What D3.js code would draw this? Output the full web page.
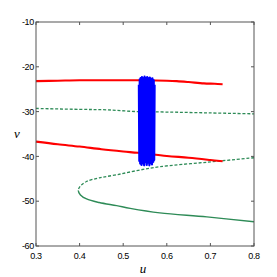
<!DOCTYPE html>
<html><head><meta charset="utf-8">
<script src="https://cdn.jsdelivr.net/npm/d3@7"></script>
<style>body{margin:0;background:#fff}svg{display:block}</style>
</head><body>
<svg id="c" width="277" height="277"></svg>
<script>
const xTicks = [0.3, 0.4, 0.5, 0.6, 0.7, 0.8];
const yTicks = [-60, -50, -40, -30, -20, -10];

const redUpperU = [0.3, 0.35, 0.4, 0.45, 0.5, 0.55, 0.6, 0.623, 0.65, 0.685, 0.71, 0.728];
const redUpperV = [-23.2, -23.1, -23.0, -23.0, -23.0, -23.0, -23.1, -23.2, -23.4, -23.7, -23.8, -23.9];

const redLowerU = [0.3, 0.35, 0.4, 0.45, 0.5, 0.534, 0.6, 0.65, 0.7, 0.728];
const redLowerV = [-36.7, -37.3, -37.8, -38.4, -38.9, -39.2, -39.9, -40.3, -40.8, -41.1];

const greenTopU = [0.3, 0.4, 0.462, 0.532, 0.6, 0.7, 0.8];
const greenTopV = [-29.3, -29.5, -29.6, -30.0, -30.1, -30.3, -30.5];

// closed-branch curve, from upper-right (dashed) through vertex to lower-right (solid)
const curveU = [0.8, 0.692, 0.584, 0.535, 0.485, 0.445, 0.416, 0.402, 0.397, 0.402, 0.416, 0.445, 0.485, 0.516, 0.584, 0.692, 0.8];
const curveV = [-40.3, -41.3, -42.3, -43.1, -44.1, -44.8, -45.6, -46.6, -47.6, -48.6, -49.5, -50.3, -51.0, -51.6, -52.6, -53.5, -54.6];
const vertexV = -47.6;

const blueU = [0.536, 0.537, 0.538, 0.539, 0.540, 0.542, 0.543, 0.545, 0.546, 0.548, 0.549, 0.551, 0.552, 0.554, 0.555, 0.557, 0.558, 0.560, 0.561, 0.563, 0.564, 0.566, 0.567, 0.569, 0.570, 0.571, 0.572];
const blueV = [-24.0, -41.0, -22.8, -41.6, -22.5, -41.9, -22.3, -41.5, -22.6, -42.0, -22.2, -41.3, -22.5, -41.9, -22.3, -41.4, -22.6, -42.0, -22.4, -41.5, -22.7, -41.8, -22.6, -41.2, -23.0, -40.8, -24.0];

const svg = d3.select('#c');
const L = 36, R = 254, T = 22, B = 246;
const x = d3.scaleLinear().domain([0.3, 0.8]).range([L, R]);
const y = d3.scaleLinear().domain([-60, -10]).range([B, T]);

const zip = (a, b) => a.map((d, i) => [d, b[i]]);
const line = d3.line().x(d => x(d[0])).y(d => y(d[1])).curve(d3.curveCatmullRom);

const defs = svg.append('defs');
defs.append('clipPath').attr('id', 'cu').append('rect')
  .attr('x', 0).attr('y', 0).attr('width', 277).attr('height', y(vertexV));
defs.append('clipPath').attr('id', 'cl').append('rect')
  .attr('x', 0).attr('y', y(vertexV)).attr('width', 277).attr('height', 277 - y(vertexV));

const green = '#2e8b57';
svg.append('path').attr('d', line(zip(greenTopU, greenTopV)))
  .attr('fill', 'none').attr('stroke', green).attr('stroke-width', 1.3).attr('stroke-dasharray', '3,1.8');
const cd = line(zip(curveU, curveV));
svg.append('path').attr('d', cd).attr('clip-path', 'url(#cu)')
  .attr('fill', 'none').attr('stroke', green).attr('stroke-width', 1.3).attr('stroke-dasharray', '3,1.8');
svg.append('path').attr('d', cd).attr('clip-path', 'url(#cl)')
  .attr('fill', 'none').attr('stroke', green).attr('stroke-width', 1.4);

svg.append('path').attr('d', line(zip(redUpperU, redUpperV)))
  .attr('fill', 'none').attr('stroke', '#ff0000').attr('stroke-width', 2.1);
svg.append('path').attr('d', line(zip(redLowerU, redLowerV)))
  .attr('fill', 'none').attr('stroke', '#ff0000').attr('stroke-width', 2.1);

svg.append('path').attr('d', d3.line().x(d => x(d[0])).y(d => y(d[1]))(zip(blueU, blueV)))
  .attr('fill', 'none').attr('stroke', '#0000ff').attr('stroke-width', 2.2).attr('stroke-linejoin', 'round');

// frame & ticks
const ax = svg.append('g').attr('stroke', '#555').attr('stroke-width', 1);
ax.append('rect').attr('x', L).attr('y', T).attr('width', R - L).attr('height', B - T).attr('fill', 'none');
xTicks.forEach(t => {
  ax.append('line').attr('x1', x(t)).attr('x2', x(t)).attr('y1', B).attr('y2', B - 3);
  ax.append('line').attr('x1', x(t)).attr('x2', x(t)).attr('y1', T).attr('y2', T + 3);
});
yTicks.forEach(t => {
  ax.append('line').attr('x1', L).attr('x2', L + 3).attr('y1', y(t)).attr('y2', y(t));
  ax.append('line').attr('x1', R).attr('x2', R - 3).attr('y1', y(t)).attr('y2', y(t));
});

const fnt = 'Liberation Sans, Arial, sans-serif';
svg.append('g').selectAll('text').data(xTicks).join('text')
  .attr('x', d => x(d)).attr('y', 259).attr('text-anchor', 'middle')
  .attr('font-family', fnt).attr('font-size', 9).attr('letter-spacing', -0.3).attr('fill', '#000')
  .text(d => d3.format('.1f')(d));
svg.append('g').selectAll('text').data(yTicks).join('text')
  .attr('x', 34).attr('y', d => y(d) + 3.2).attr('text-anchor', 'end')
  .attr('font-family', fnt).attr('font-size', 9).attr('letter-spacing', -0.3).attr('fill', '#000')
  .text(d => d);

svg.append('text').attr('x', 143).attr('y', 273).attr('text-anchor', 'middle')
  .attr('font-family', 'Liberation Serif, Times New Roman, serif').attr('font-style', 'italic')
  .attr('font-size', 13).text('u');
svg.append('text').attr('x', 17).attr('y', 138).attr('text-anchor', 'middle')
  .attr('font-family', 'Liberation Serif, Times New Roman, serif').attr('font-style', 'italic')
  .attr('font-size', 13).text('v');
</script>
</body></html>
